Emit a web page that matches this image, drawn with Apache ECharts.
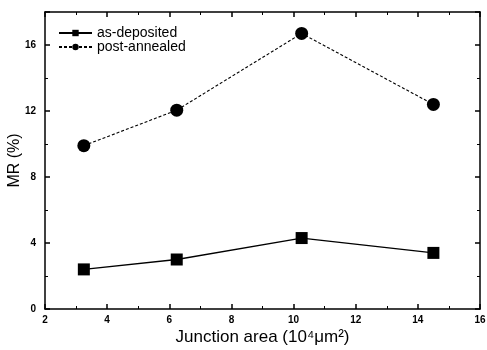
<!DOCTYPE html>
<html>
<head>
<meta charset="UTF-8">
<style>
html,body{margin:0;padding:0;background:#fff}
#chart{width:487px;height:350px}
</style>
</head>
<body>
<div id="chart"></div>
<script src="https://cdn.jsdelivr.net/npm/echarts@6/dist/echarts.min.js"></script>
<script>
// junction area (10^4 um^2) and MR (%)
var areas = [3.25, 6.24, 10.26, 14.5];
var asDeposited = [2.4, 3.0, 4.3, 3.4];
var postAnnealed = [9.9, 12.05, 16.7, 12.4];

function pairs(xs, ys) {
	var out = [];
	for (var i = 0; i < xs.length; i++) out.push([xs[i], ys[i]]);
	return out;
}

var chart = echarts.init(document.getElementById('chart'));
var line = {onZero: false, lineStyle: {color: '#000', width: 1.5}};
var tick = {inside: true, length: 5, lineStyle: {color: '#000', width: 1.5}};
var minor = {show: true, splitNumber: 2, length: 3, lineStyle: {color: '#000', width: 1}};
var tickFont = {fontFamily: 'Liberation Sans', fontSize: 10, fontWeight: 'bold', color: '#000'};
var opt = {
	animation: false,
	grid: {left: 45, right: 7, top: 12, bottom: 41, outerBoundsMode: 'none'},
	legend: {
		left: 53, top: 21, orient: 'vertical', itemGap: 0,
		itemWidth: 33, itemHeight: 8,
		textStyle: {fontFamily: 'Liberation Sans', fontSize: 14, color: '#000'},
		data: ['as-deposited', 'post-annealed']
	},
	xAxis: [
		{
			type: 'value', min: 2, max: 16, interval: 2,
			name: 'Junction area (10⁴μm²)', nameLocation: 'middle', nameGap: 20, nameMoveOverlap: false,
			nameTextStyle: {fontFamily: 'Liberation Sans', fontSize: 17, color: '#000'},
			axisLine: line, axisTick: tick, minorTick: minor, splitLine: {show: false},
			axisLabel: Object.assign({margin: 6}, tickFont)
		},
		{
			type: 'value', min: 2, max: 16, interval: 2, position: 'top',
			axisLine: line, axisTick: tick, minorTick: minor, splitLine: {show: false},
			axisLabel: {show: false}
		}
	],
	yAxis: [
		{
			type: 'value', min: 0, max: 18, interval: 4,
			name: 'MR (%)', nameLocation: 'middle', nameGap: 22, nameMoveOverlap: false,
			nameTextStyle: {fontFamily: 'Liberation Sans', fontSize: 16, color: '#000'},
			axisLine: line, axisTick: tick, minorTick: minor, splitLine: {show: false},
			axisLabel: Object.assign({
				margin: 9,
				formatter: function (v) { return v > 16 ? '' : v; }
			}, tickFont)
		},
		{
			type: 'value', min: 0, max: 18, interval: 4, position: 'right',
			axisLine: line, axisTick: tick, minorTick: minor, splitLine: {show: false},
			axisLabel: {show: false}
		}
	],
	series: [
		{
			name: 'as-deposited', type: 'line', symbol: 'rect', symbolSize: 12,
			itemStyle: {color: '#000'}, lineStyle: {color: '#000', width: 1.3},
			data: pairs(areas, asDeposited)
		},
		{
			name: 'post-annealed', type: 'line', symbol: 'circle', symbolSize: 13,
			itemStyle: {color: '#000'}, lineStyle: {color: '#000', width: 1.1, type: [3, 2]},
			data: pairs(areas, postAnnealed)
		}
	]
};
chart.setOption(opt);
</script>
</body>
</html>
